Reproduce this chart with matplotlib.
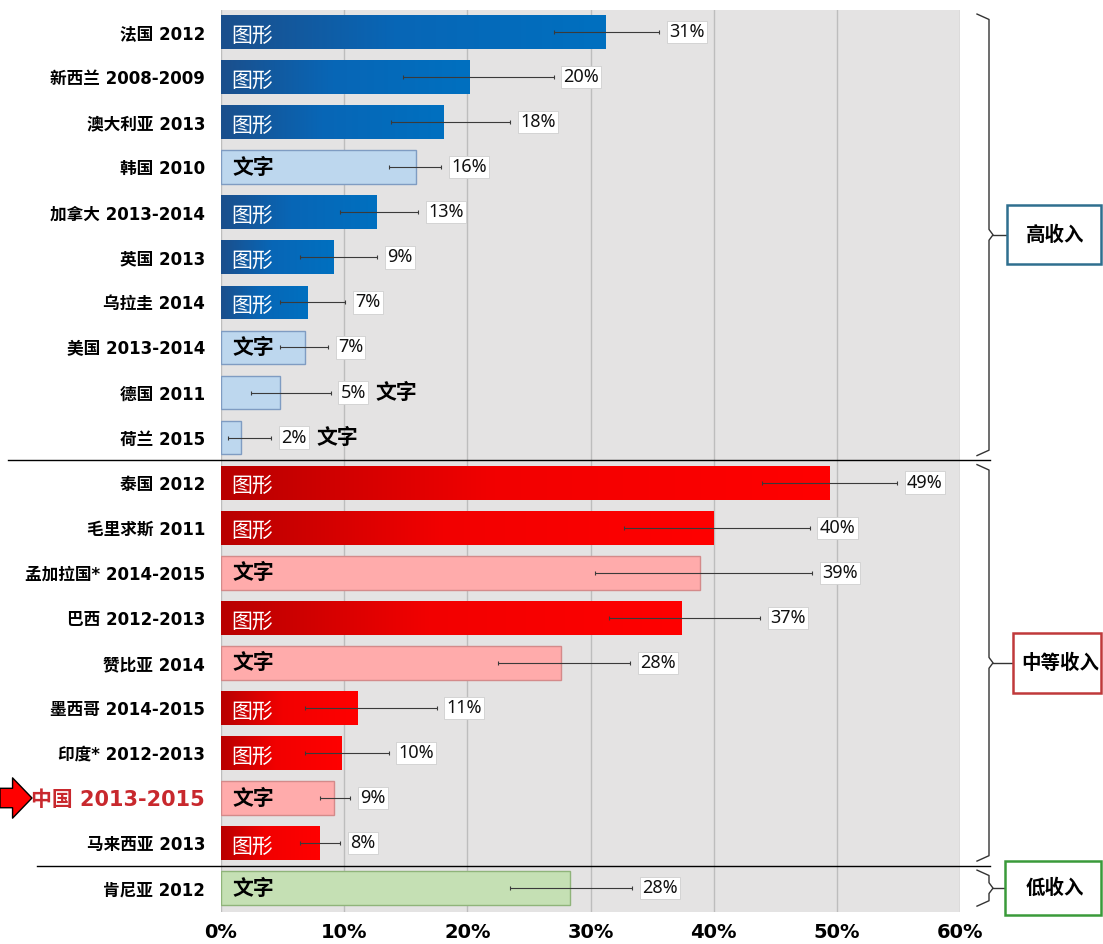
import matplotlib.pyplot as plt
import numpy as np
from matplotlib.colors import LinearSegmentedColormap
from matplotlib.patches import Rectangle
from matplotlib.transforms import blended_transform_factory

plt.rcParams['font.family'] = ['DejaVu Sans', 'Noto Sans CJK SC']

countries = ['法国 2012', '新西兰 2008-2009', '澳大利亚 2013', '韩国 2010',
             '加拿大 2013-2014', '英国 2013', '乌拉圭 2014', '美国 2013-2014',
             '德国 2011', '荷兰 2015',
             '泰国 2012', '毛里求斯 2011', '孟加拉国* 2014-2015', '巴西 2012-2013',
             '赞比亚 2014', '墨西哥 2014-2015', '印度* 2012-2013', '中国 2013-2015',
             '马来西亚 2013',
             '肯尼亚 2012']
values = [31.2, 20.2, 18.1, 15.8, 12.6, 9.1, 7.0, 6.8, 4.8, 1.6,
          49.4, 40.0, 38.9, 37.4, 27.6, 11.1, 9.8, 9.2, 8.0,
          28.3]
ci_low = [27.0, 14.8, 13.8, 13.6, 9.7, 6.4, 4.8, 4.8, 2.4, 0.6,
          43.9, 32.7, 30.4, 31.5, 22.5, 6.8, 6.8, 8.0, 6.4,
          23.5]
ci_high = [35.6, 27.0, 23.5, 17.9, 16.0, 12.7, 10.1, 8.7, 8.9, 4.1,
           54.9, 47.8, 48.0, 43.8, 33.2, 17.5, 13.6, 10.5, 9.7,
           33.4]
bar_tags = ['图形', '图形', '图形', '文字', '图形', '图形', '图形', '文字', '文字', '文字',
            '图形', '图形', '文字', '图形', '文字', '图形', '图形', '文字', '图形',
            '文字']
group_names = ['高收入', '中等收入', '低收入']
group_rows = [(0, 9), (10, 18), (19, 19)]
highlight = '中国 2013-2015'

group_style = {
    '高收入': dict(dark=['#1b4f8c', '#0866b6', '#0070c0'], light='#bdd7ee',
                  light_edge='#7f9cc2', box='#2f6f8f'),
    '中等收入': dict(dark=['#b80000', '#f20000', '#ff0000'], light='#ffabab',
                  light_edge='#d48a8a', box='#c0393b'),
    '低收入': dict(dark=None, light='#c5e0b4', light_edge='#8fb47a', box='#3a9a3a'),
}

W, H = 1103, 944
fig = plt.figure(figsize=(W / 100, H / 100), dpi=100)
ax = fig.add_axes([221 / W, 32 / H, 739 / W, 902 / H])
ax.set_facecolor('#e4e3e3')

n = len(countries)
y = np.arange(n)
values = np.array(values)
ci_low = np.array(ci_low)
ci_high = np.array(ci_high)
bh = 0.75
grad = np.linspace(0, 1, 256).reshape(1, -1)

row_group = []
for g, (a, b) in zip(group_names, group_rows):
    row_group += [g] * (b - a + 1)

for i in range(n):
    st = group_style[row_group[i]]
    if bar_tags[i] == '图形':
        bar = ax.barh(i, values[i], height=bh, color=st['dark'][-1],
                      edgecolor='none', zorder=2)[0]
        cmap = LinearSegmentedColormap.from_list(
            'g', list(zip([0, 0.45, 1], st['dark'])))
        im = ax.imshow(grad, cmap=cmap, aspect='auto', zorder=2.1,
                       extent=[0, values[i], i + bh / 2, i - bh / 2])
        im.set_clip_path(bar)
    else:
        ax.barh(i, values[i], height=bh, color=st['light'],
                edgecolor=st['light_edge'], linewidth=1, zorder=2)

ax.errorbar(values, y, xerr=[values - ci_low, ci_high - values], fmt='none',
            ecolor='#3a3a3a', elinewidth=0.8, capsize=1.5, capthick=0.8,
            zorder=3)

for i in range(n):
    lab = ax.text(ci_high[i] + 0.8, y[i], f'{values[i]:.0f}%', va='center',
                  ha='left', fontsize=13, family='Noto Sans', color='#111111',
                  zorder=4,
                  bbox=dict(boxstyle='square,pad=0.12', fc='white',
                            ec='#cfcfcf', lw=0.6))
    tag = bar_tags[i]
    if tag == '图形':
        ax.text(0.8, y[i] + 0.08, tag, color='white', fontsize=15,
                va='center', ha='left', family='Noto Sans CJK SC', zorder=4)
    elif values[i] >= 6:
        ax.text(0.9, y[i], tag, color='black', fontsize=15, fontweight='bold',
                va='center', ha='left', family='Noto Sans CJK SC', zorder=4)
    else:
        ax.annotate(tag, xy=(1, 0.5), xycoords=lab, xytext=(7, 0),
                    textcoords='offset points', va='center', ha='left',
                    fontsize=15, fontweight='bold', family='Noto Sans CJK SC',
                    color='black', zorder=4)

ax.set_xlim(0, 60)
ax.set_ylim(19.53, -0.49)
ax.set_xticks(np.arange(0, 61, 10))
ax.set_xticklabels([f'{t}%' for t in range(0, 61, 10)], fontsize=14,
                   fontweight='bold')
ax.set_yticks(y)
ax.set_yticklabels(countries, fontsize=12, fontweight='bold')
for t in ax.get_yticklabels():
    if t.get_text() == highlight:
        t.set_color('#c8282d')
        t.set_fontsize(15)
ax.tick_params(axis='both', length=0)
ax.tick_params(axis='x', pad=8)
ax.tick_params(axis='y', pad=11.5)
ax.set_axisbelow(True)
ax.xaxis.grid(True, color='#bdbdbd', linewidth=1)
for s in ax.spines.values():
    s.set_visible(False)

# arrow pointing at the highlighted row
hi_row = countries.index(highlight)
ax.annotate('', xy=(32, hi_row), xytext=(0, hi_row),
            xycoords=('figure pixels', 'data'),
            textcoords=('figure pixels', 'data'),
            arrowprops=dict(arrowstyle='simple,head_length=1.4,head_width=2.9,tail_width=1.4',
                            fc='#ff0000', ec='black', lw=1, shrinkA=0, shrinkB=0,
                            mutation_scale=10))

tr = blended_transform_factory(ax.transAxes, ax.transData)

# group separators
ax.plot([-0.288, 1.04], [9.5, 9.5], color='black', lw=1, transform=tr,
        clip_on=False)
ax.plot([-0.249, 1.04], [18.5, 18.5], color='black', lw=1, transform=tr,
        clip_on=False)


def ax_x(px):
    return (px - 221) / 739


# curly braces and group boxes
box_left = [1007, 1013, 1005]
box_h = [1.31, 1.33, 1.2]
text_left = [1026, 1021, 1026]
for g, (a, b), bl, hgt, tl in zip(group_names, group_rows, box_left, box_h,
                                  text_left):
    y0, y1 = a - 0.4, b + 0.4
    ym = (a + b) / 2
    d = 0.12
    xs = [ax_x(977), ax_x(989), ax_x(989), ax_x(993), ax_x(989), ax_x(989),
          ax_x(977)]
    ys = [y0, y0 + d, ym - d, ym, ym + d, y1 - d, y1]
    ax.plot(xs, ys, color='#333333', lw=1, transform=tr, clip_on=False)
    ax.plot([ax_x(993), ax_x(bl)], [ym, ym], color='#333333', lw=1,
            transform=tr, clip_on=False)
    col = group_style[g]['box']
    rect = Rectangle((ax_x(bl), ym - hgt / 2), ax_x(1101) - ax_x(bl), hgt,
                     transform=tr, fc='white', ec=col, lw=1.8, clip_on=False,
                     zorder=5)
    ax.add_patch(rect)
    ax.text(ax_x(tl), ym, g, transform=tr, fontsize=14, fontweight='bold',
            family='Noto Sans CJK SC', va='center', ha='left', zorder=6,
            clip_on=False)

fig.savefig('out.png', dpi=100)
